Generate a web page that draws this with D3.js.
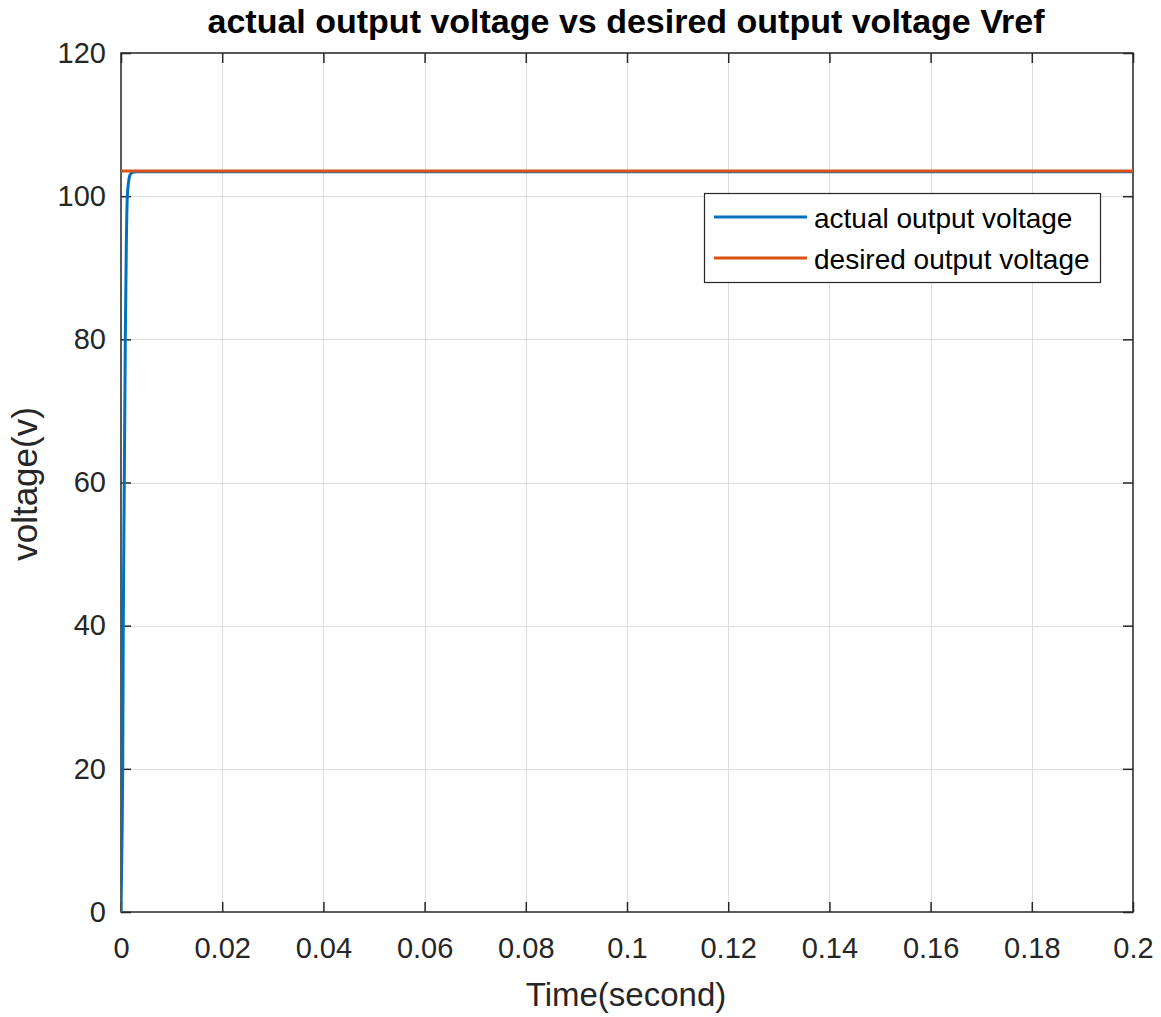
<!DOCTYPE html>
<html>
<head>
<meta charset="utf-8">
<script src="https://cdn.jsdelivr.net/npm/d3@7"></script>
<style>
  html, body { margin: 0; padding: 0; background: #fff; }
  svg { display: block; }
</style>
</head>
<body>
<svg id="chart" width="1161" height="1017"></svg>
<script>
// Simulated output voltage of the converter (time in seconds, voltage in volts)
const timeSamples = [0, 0.0002, 0.00034, 0.00045, 0.00065, 0.00085, 0.00105, 0.00125, 0.0015, 0.0018, 0.0022, 0.003, 0.01, 0.2];
const actualVoltage = [0, 10, 20, 40, 60, 80, 93, 100, 102, 103, 103.3, 103.4, 103.4, 103.4];
// Reference voltage Vref
const refTime = [0, 0.2];
const desiredVoltage = [103.5, 103.5];

const xTicks = [0, 0.02, 0.04, 0.06, 0.08, 0.1, 0.12, 0.14, 0.16, 0.18, 0.2];
const yTicks = [0, 20, 40, 60, 80, 100, 120];
const seriesNames = ["actual output voltage", "desired output voltage"];
const seriesColors = ["#0072BD", "#D95319"];

const FONT = "'Liberation Sans', Arial, Helvetica, sans-serif";
const svg = d3.select("#chart");
const m = { left: 121, right: 1133, top: 53, bottom: 912 };

const x = d3.scaleLinear().domain([0, 0.2]).range([m.left, m.right]);
const y = d3.scaleLinear().domain([0, 120]).range([m.bottom, m.top]);

const fmtX = d => d === 0 ? "0" : String(+d.toFixed(2));

// grid
const grid = svg.append("g").attr("stroke", "#dedede").attr("stroke-width", 1);
grid.selectAll(".gx").data(xTicks.slice(1, -1)).join("line")
  .attr("x1", d => Math.round(x(d)) + 0.5).attr("x2", d => Math.round(x(d)) + 0.5)
  .attr("y1", m.top).attr("y2", m.bottom);
grid.selectAll(".gy").data(yTicks.slice(1, -1)).join("line")
  .attr("y1", d => Math.round(y(d)) + 0.5).attr("y2", d => Math.round(y(d)) + 0.5)
  .attr("x1", m.left).attr("x2", m.right);

// axes with inward ticks
const tickLen = 10;
const axisColor = "#262626";
function styleAxis(g) {
  g.select(".domain").remove();
  g.selectAll(".tick line").attr("stroke", axisColor).attr("stroke-width", 1.5);
  g.selectAll(".tick text").attr("fill", axisColor)
    .style("font-family", FONT).style("font-size", "29px");
}
const xAxis = svg.append("g").attr("transform", `translate(0,${m.bottom})`)
  .call(d3.axisBottom(x).tickValues(xTicks).tickFormat(fmtX).tickSizeInner(-tickLen).tickSizeOuter(0))
  .call(styleAxis);
xAxis.selectAll(".tick text").attr("dy", null).attr("y", 46);
svg.append("g").attr("transform", `translate(0,${m.top})`)
  .call(d3.axisTop(x).tickValues(xTicks).tickFormat("").tickSizeInner(-tickLen).tickSizeOuter(0))
  .call(styleAxis);
const yAxis = svg.append("g").attr("transform", `translate(${m.left},0)`)
  .call(d3.axisLeft(y).tickValues(yTicks).tickSizeInner(-tickLen).tickSizeOuter(0))
  .call(styleAxis);
yAxis.selectAll(".tick text").attr("x", -15);
svg.append("g").attr("transform", `translate(${m.right},0)`)
  .call(d3.axisRight(y).tickValues(yTicks).tickFormat("").tickSizeInner(-tickLen).tickSizeOuter(0))
  .call(styleAxis);

// box
svg.append("rect").attr("x", m.left).attr("y", m.top)
  .attr("width", m.right - m.left).attr("height", m.bottom - m.top)
  .attr("fill", "none").attr("stroke", axisColor).attr("stroke-width", 1.5);

// lines
const line = d3.line().x(d => x(d[0])).y(d => y(d[1])).curve(d3.curveMonotoneX);
svg.append("clipPath").attr("id", "plot-clip").append("rect")
  .attr("x", m.left).attr("y", m.top).attr("width", m.right - m.left).attr("height", m.bottom - m.top);
const plot = svg.append("g").attr("clip-path", "url(#plot-clip)");
plot.append("path").datum(timeSamples.map((t, i) => [t, actualVoltage[i]]))
  .attr("d", line).attr("fill", "none").attr("stroke", seriesColors[0]).attr("stroke-width", 3);
plot.append("path").datum(refTime.map((t, i) => [t, desiredVoltage[i]]))
  .attr("d", line).attr("fill", "none").attr("stroke", seriesColors[1]).attr("stroke-width", 3);

// legend
const lg = svg.append("g");
lg.append("rect").attr("x", 704.5).attr("y", 193.5).attr("width", 396).attr("height", 89)
  .attr("fill", "#fff").attr("stroke", axisColor).attr("stroke-width", 1.2);
seriesNames.forEach((name, i) => {
  const ly = 217 + i * 41;
  lg.append("line").attr("x1", 714).attr("x2", 807).attr("y1", ly).attr("y2", ly)
    .attr("stroke", seriesColors[i]).attr("stroke-width", 3);
  lg.append("text").attr("x", 814).attr("y", ly + 11).text(name)
    .attr("fill", "#000").style("font-family", FONT).style("font-size", "28px");
});

// titles
svg.append("text").attr("x", 626).attr("y", 33).attr("text-anchor", "middle")
  .text("actual output voltage vs desired output voltage Vref")
  .style("font-family", FONT).style("font-weight", "bold").style("font-size", "34px");
svg.append("text").attr("x", 626).attr("y", 1006).attr("text-anchor", "middle").attr("fill", axisColor)
  .text("Time(second)")
  .style("font-family", FONT).style("font-size", "33px");
svg.append("text").attr("transform", "translate(37,484) rotate(-90)").attr("text-anchor", "middle").attr("fill", axisColor)
  .text("voltage(v)")
  .style("font-family", FONT).style("font-size", "35px");
</script>
</body>
</html>
